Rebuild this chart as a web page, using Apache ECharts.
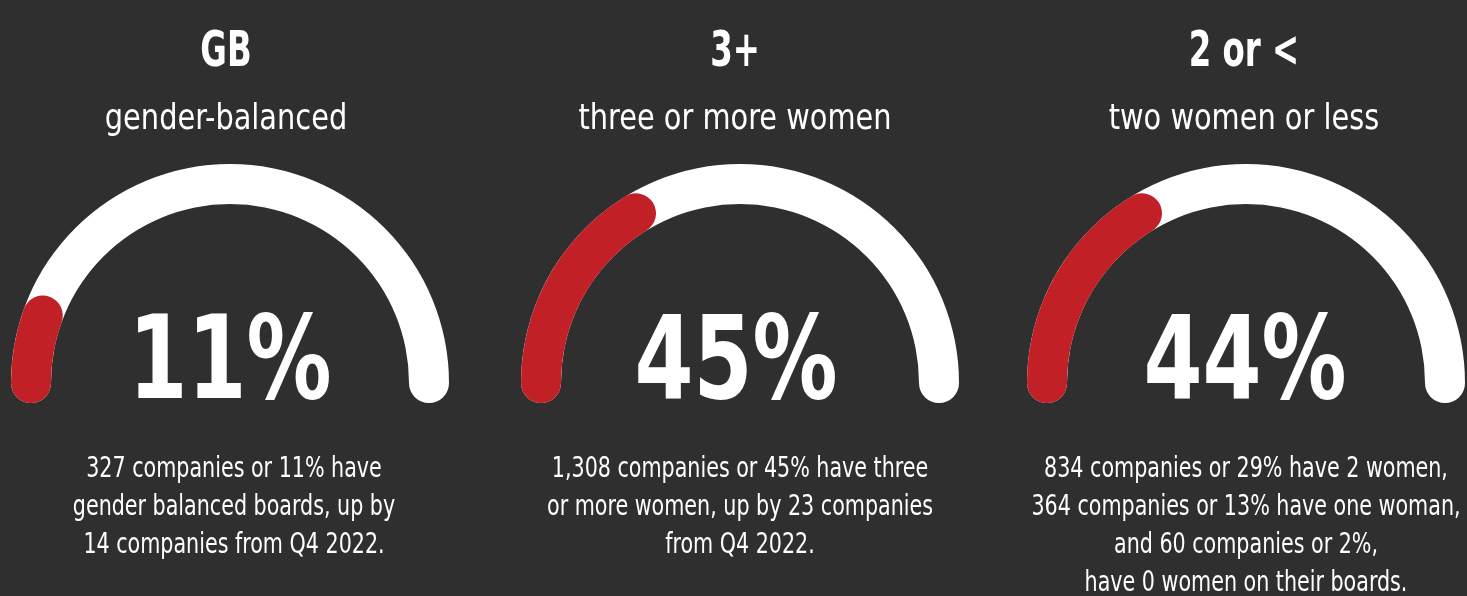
<!DOCTYPE html>
<html>
<head>
<meta charset="utf-8">
<script src="https://cdn.jsdelivr.net/npm/echarts@6/dist/echarts.min.js"></script>
<style>
  html, body { margin: 0; padding: 0; background: #2f2f2f; }
  #chart { width: 1467px; height: 596px; }
</style>
</head>
<body>
<div id="chart"></div>
<script>
  // headings above each gauge
  const headings = ['GB', '3+', '2 or <'];
  const subtitles = ['gender-balanced', 'three or more women', 'two women or less'];
  // printed percentage in the middle of each gauge
  const percentLabels = ['11%', '45%', '44%'];
  // how far the red arc is filled, as drawn in the picture (0-100)
  const arcFill = [11, 32.5, 32.5];
  const notes = [
    '327 companies or 11% have\ngender balanced boards, up by\n14 companies from Q4 2022.',
    '1,308 companies or 45% have three\nor more women, up by 23 companies\nfrom Q4 2022.',
    '834 companies or 29% have 2 women,\n364 companies or 13% have one woman,\nand 60 companies or 2%,\nhave 0 women on their boards.'
  ];

  // no narrow font installed, so the condensed face gets squeezed a bit more with scaleX
  const FONT = '"DejaVu Sans Condensed", sans-serif';
  const centersX = [230, 740, 1246];
  const titleX = [226, 735, 1244];
  const bigX = [230, 736, 1245];
  const noteX = [234, 740, 1246];
  const cy = 383;

  const chart = echarts.init(document.getElementById('chart'));

  const series = arcFill.map((v, i) => ({
    type: 'gauge',
    center: [centersX[i], cy],
    radius: 219,
    startAngle: 180,
    endAngle: 0,
    min: 0,
    max: 100,
    animation: false,
    axisLine: {
      roundCap: true,
      lineStyle: { width: 40, color: [[1, '#ffffff']] }
    },
    progress: {
      show: true,
      roundCap: true,
      width: 40,
      itemStyle: { color: '#c02026' }
    },
    pointer: { show: false },
    anchor: { show: false },
    axisTick: { show: false },
    splitLine: { show: false },
    axisLabel: { show: false },
    title: { show: false },
    detail: { show: false },
    data: [{ value: v }]
  }));

  const texts = [];
  headings.forEach((h, i) => {
    texts.push({
      type: 'text', x: titleX[i], y: 53, scaleX: 0.72,
      style: { text: h, fill: '#fff', font: 'bold 50px ' + FONT, align: 'center', verticalAlign: 'middle' }
    });
    texts.push({
      type: 'text', x: titleX[i], y: 119.5, scaleX: 0.89,
      style: { text: subtitles[i], fill: '#fff', font: '36px ' + FONT, align: 'center', verticalAlign: 'middle' }
    });
    texts.push({
      type: 'text', x: bigX[i], y: 368, scaleX: 0.82, z: 10,
      style: { text: percentLabels[i], fill: '#fff', font: 'bold 115px ' + FONT, align: 'center', verticalAlign: 'middle' }
    });
    texts.push({
      type: 'text', x: noteX[i], y: 451, scaleX: 0.82,
      style: { text: notes[i], fill: '#fff', font: '28px ' + FONT, lineHeight: 38, align: 'center', verticalAlign: 'top' }
    });
  });

  chart.setOption({
    backgroundColor: '#2f2f2f',
    series: series,
    graphic: texts
  });
</script>
</body>
</html>
